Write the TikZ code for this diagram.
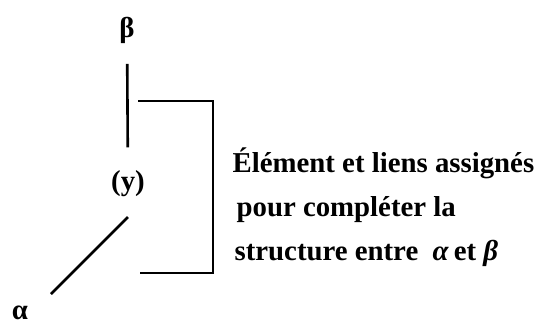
\documentclass[tikz,border=0pt]{standalone}
\usepackage{fontspec}
\setmainfont{Liberation Serif}
\usetikzlibrary{calc}
\begin{document}
\begin{tikzpicture}[x=1pt,y=-1pt,line width=2.6pt,font=\fontsize{28.8}{44}\selectfont\bfseries]
  \useasboundingbox (0,0) rectangle (541,325);
  % Define nodes
  \node (beta) at (127,30) {β};
  \node (y) at (128,184) {(y)};
  \node (alpha) at (20,313) [inner sep=1pt] {α};
  \node (note) at (228,207) [anchor=west,align=left] {Élément et liens assignés\\\hspace{4pt}pour compléter la\\\hspace{2pt}structure entre \ \textit{α}\,et \textit{β}};
  \coordinate (top) at (138,101);
  \coordinate (corner) at (213,101);
  \coordinate (bot) at (140,273);

  % Draw links and the bracket
  \draw[shorten <=16pt, shorten >=19pt] (beta) -- (y);
  \draw ([yshift=-33pt]y.center) -- ([xshift=31pt,yshift=19pt]alpha.center);
  \draw (top) -- (corner) |- (bot);
\end{tikzpicture}
\end{document}
